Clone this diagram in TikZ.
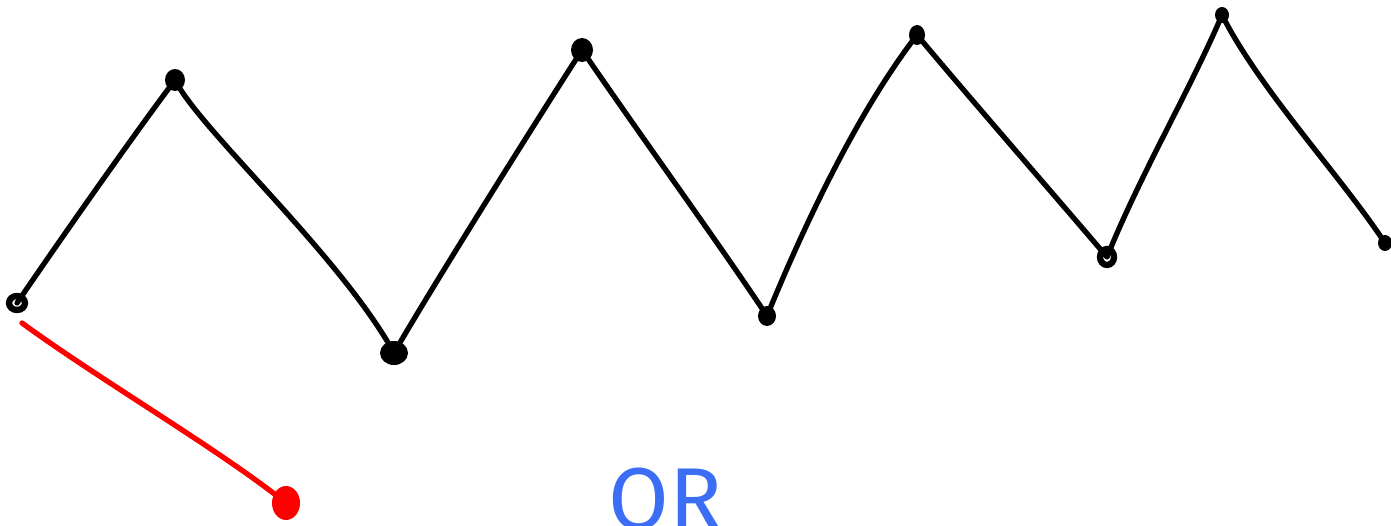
\documentclass[tikz,border=0pt]{standalone}
\usepackage{fontspec}
\newfontfamily\handfont{Fira Sans}
\definecolor{inkblue}{HTML}{3C6EF5}
\definecolor{inkred}{HTML}{FF0000}
\begin{document}
\begin{tikzpicture}[x=0.02cm,y=-0.02cm,
  stroke/.style={line width=3pt,line cap=round,line join=round},
  ringmark/.style={draw=black,line width=3.6pt}]
\useasboundingbox (0,0) rectangle (1391,526);
\clip (0,0) rectangle (1391,526);
\coordinate (p1) at (17,303);
\coordinate (p2) at (175,80);
\coordinate (p3) at (394,353);
\coordinate (p4) at (582,50);
\coordinate (p5) at (767,316);
\coordinate (p6) at (917,35);
\coordinate (p7) at (1107,257);
\coordinate (p8) at (1222,15);
\coordinate (p9) at (1385,243);
\coordinate (r0) at (22,323);
\coordinate (r1) at (286,503);
\draw[stroke] (p1) .. controls (60,240) and (130,140) .. (p2)
  .. controls (200,130) and (340,255) .. (p3)
  .. controls (430,290) and (540,115) .. (p4)
  .. controls (640,135) and (720,245) .. (p5)
  .. controls (800,235) and (855,115) .. (p6)
  .. controls (980,110) and (1050,190) .. (p7)
  .. controls (1140,175) and (1190,90) .. (p8)
  .. controls (1260,90) and (1340,175) .. (p9);
\draw[stroke,color=inkred] (r0) .. controls (100,380) and (220,450) .. (r1);
\draw[ringmark] (p1) ellipse [x radius=8,y radius=7];
\fill (p2) ellipse [x radius=10,y radius=11];
\fill (p3) ellipse [x radius=14,y radius=12];
\fill (p4) ellipse [x radius=11,y radius=12];
\fill (p5) ellipse [x radius=9,y radius=10];
\fill (p6) ellipse [x radius=8,y radius=10];
\draw[ringmark] (p7) ellipse [x radius=7,y radius=8];
\fill (p8) ellipse [x radius=7,y radius=8];
\fill (p9) ellipse [x radius=7,y radius=8];
\fill[inkred] (r1) ellipse [x radius=14,y radius=17];
\node[text=inkblue,font=\handfont\fontsize{50}{50}\selectfont,anchor=north west,inner sep=0pt] (or) at (608,468) {OR};
\end{tikzpicture}
\end{document}
